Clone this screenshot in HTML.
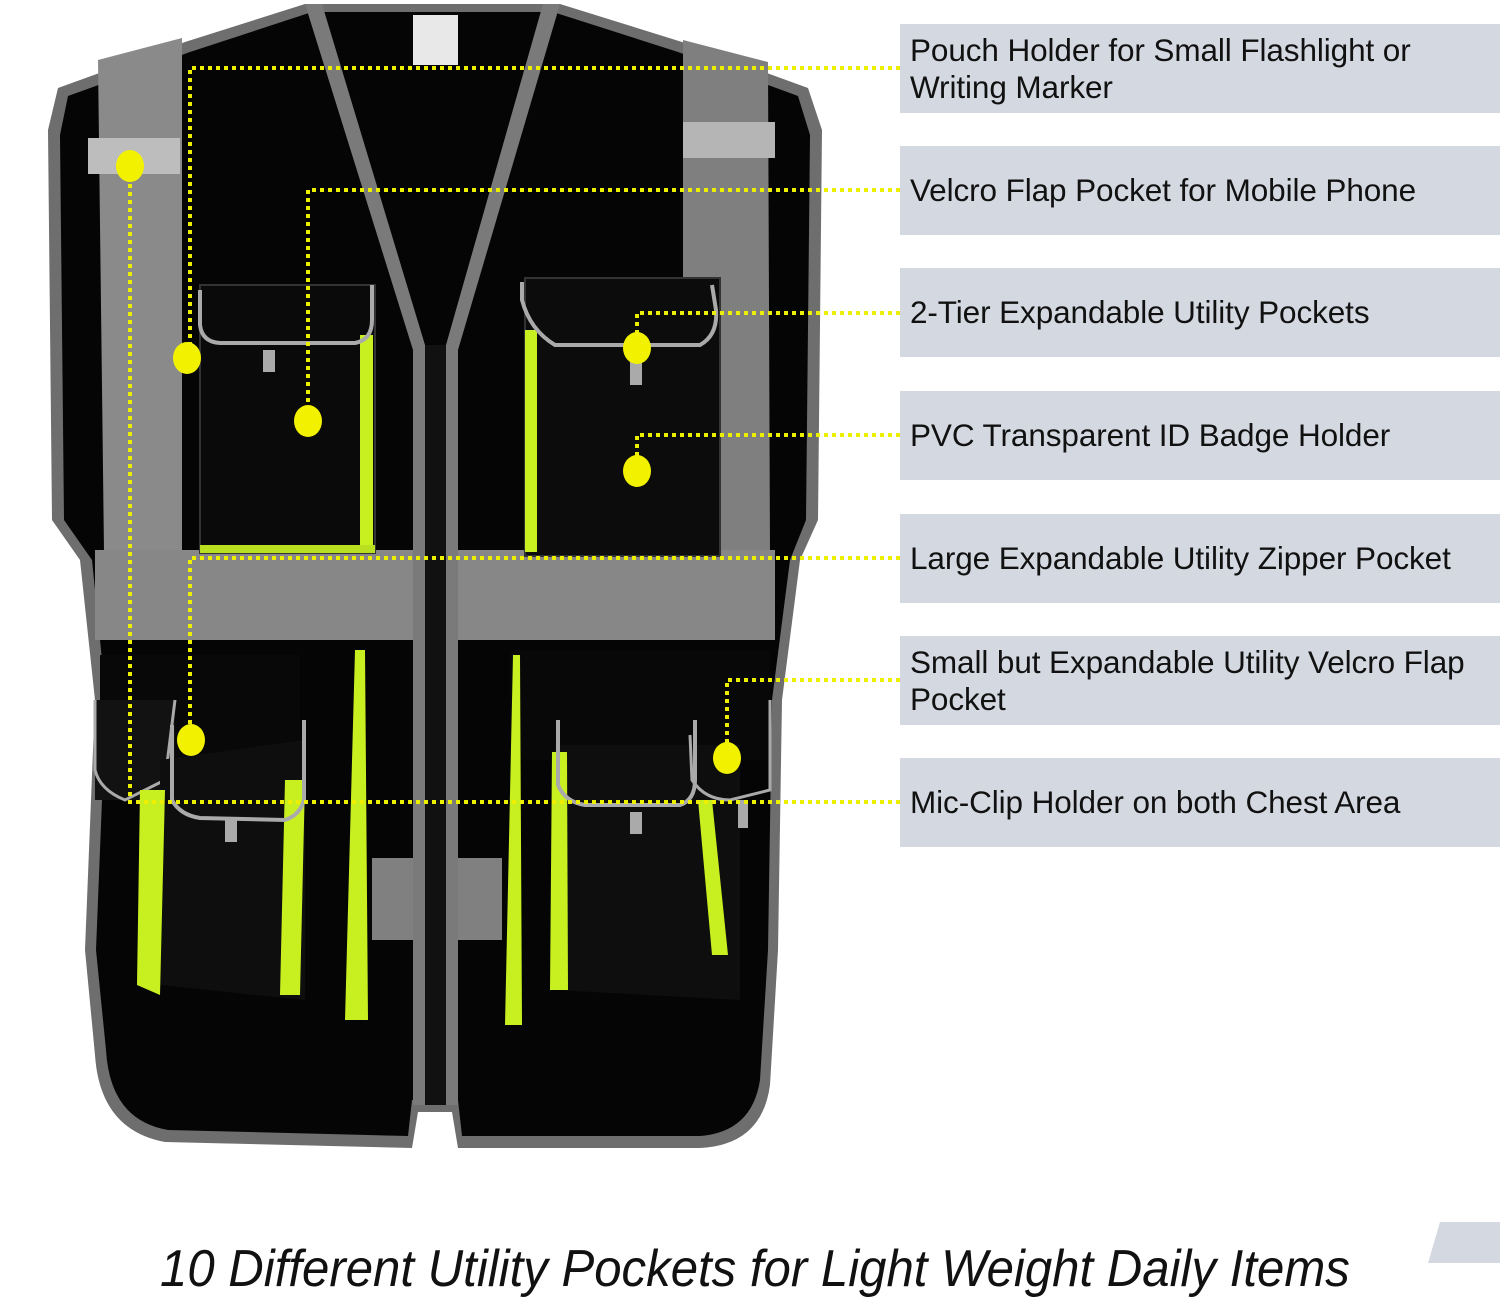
<!DOCTYPE html>
<html><head><meta charset="utf-8"><style>
html,body{margin:0;padding:0;background:#fff;}
body{width:1500px;height:1263px;overflow:hidden;position:relative;font-family:"Liberation Sans",Arial,sans-serif;}
.box{position:absolute;left:900px;width:600px;height:89px;background:#d4d9e1;box-sizing:border-box;padding-left:10px;font-size:31.5px;color:#111;line-height:37px;display:flex;align-items:center;letter-spacing:-0.1px;}
.cap{position:absolute;left:160px;top:1243px;font-family:"Liberation Sans",sans-serif;font-style:italic;font-size:52px;line-height:52px;color:#111;white-space:nowrap;transform:scaleX(0.945);transform-origin:left top;}
</style></head><body>
<svg width="1500" height="1263" style="position:absolute;left:0;top:0">
<path d="M58,88 L185,42 L305,4 L560,4 L682,42 L808,88 L822,130 L818,520 L800,560 L782,700 L778,950 L770,1085 Q762,1145 700,1148 L458,1148 L452,1112 L418,1112 L412,1148 L165,1142 Q100,1130 95,1055 L85,950 L95,700 L80,560 L52,520 L48,130 Z" fill="#6e6e6e"/>
<path d="M68,96 L190,52 L312,12 L553,12 L678,52 L798,96 L810,135 L806,520 L790,560 L772,700 L768,950 L760,1080 Q752,1132 700,1136 L462,1136 L458,1100 L412,1100 L408,1136 L168,1130 Q110,1120 106,1050 L96,950 L106,700 L92,560 L64,520 L60,135 Z" fill="#050505"/>
<polygon points="98,60 182,38 182,552 104,552" fill="#8a8a8a"/>
<polygon points="683,40 768,62 770,552 683,552" fill="#7f7f7f"/>
<rect x="88" y="138" width="92" height="36" fill="#bdbdbd"/>
<rect x="683" y="122" width="92" height="36" fill="#b5b5b5"/>
<rect x="95" y="550" width="680" height="90" fill="#878787"/>
<rect x="372" y="858" width="130" height="82" fill="#808080"/>
<polygon points="305,4 322,4 425,345 425,1105 413,1105 413,350" fill="#7a7a7a"/>
<polygon points="543,4 560,4 458,350 458,1105 446,1105 446,345" fill="#7a7a7a"/>
<rect x="425" y="345" width="21" height="760" fill="#111"/>
<rect x="413" y="15" width="45" height="50" fill="#e8e8e8"/>
<rect x="200" y="285" width="175" height="268" fill="#0a0a0a" stroke="#333" stroke-width="2"/>
<rect x="360" y="335" width="13" height="215" fill="#c8f020"/>
<rect x="200" y="545" width="175" height="8" fill="#b8e020"/>
<path d="M200,290 L200,325 Q202,342 220,343 L355,343 Q372,340 372,320 L372,285" fill="none" stroke="#aaa" stroke-width="4"/>
<rect x="263" y="350" width="12" height="22" fill="#aaa"/>
<rect x="525" y="278" width="195" height="278" fill="#0c0c0c" stroke="#333" stroke-width="2"/>
<rect x="525" y="330" width="12" height="222" fill="#c8f020"/>
<path d="M522,282 L522,300 Q530,330 555,345 L700,345 Q718,335 716,310 L712,285" fill="none" stroke="#aaa" stroke-width="4"/>
<rect x="630" y="360" width="12" height="25" fill="#aaa"/>
<polygon points="100,655 300,655 300,760 100,760" fill="#080808"/>
<polygon points="355,650 365,650 368,1020 345,1020" fill="#c8f020"/>
<polygon points="95,700 175,700 175,800 95,800" fill="#121212"/>
<path d="M95,700 L95,770 Q100,790 125,800 L165,780 L175,700" fill="none" stroke="#aaa" stroke-width="3"/>
<polygon points="160,760 305,740 305,1000 160,985" fill="#0e0e0e"/>
<polygon points="140,790 165,790 160,995 137,985" fill="#c8f020"/>
<polygon points="285,780 305,780 300,995 280,995" fill="#c8f020"/>
<path d="M172,725 L172,800 Q180,815 200,818 L285,820 Q300,815 304,800 L304,720" fill="none" stroke="#aaa" stroke-width="4"/>
<rect x="225" y="820" width="12" height="22" fill="#aaa"/>
<polygon points="510,650 770,650 770,760 510,760" fill="#080808"/>
<polygon points="513,655 520,655 522,1025 505,1025" fill="#c8f020"/>
<polygon points="555,745 740,745 740,1000 555,990" fill="#0e0e0e"/>
<polygon points="552,752 567,752 568,990 550,990" fill="#c8f020"/>
<polygon points="698,800 712,800 728,955 712,955" fill="#c8f020"/>
<path d="M558,720 L558,785 Q565,802 585,805 L680,805 Q695,800 695,780 L695,720" fill="none" stroke="#aaa" stroke-width="4"/>
<path d="M690,735 L692,780 Q705,800 730,800 L770,790 L770,700" fill="none" stroke="#aaa" stroke-width="3"/>
<rect x="630" y="812" width="12" height="22" fill="#aaa"/>
<rect x="738" y="800" width="10" height="28" fill="#aaa"/>
<g stroke="#eeee00" stroke-width="4" stroke-dasharray="4 4" fill="none">
<polyline points="900,68 190,68 190,355"/>
<polyline points="900,190 308,190 308,420"/>
<polyline points="900,313 637,313 637,348"/>
<polyline points="900,435 637,435 637,470"/>
<polyline points="900,558 190,558 190,740"/>
<polyline points="900,680 727,680 727,758"/>
<polyline points="900,802 130,802 130,165"/>
</g>
<g fill="#f2f200">
<ellipse cx="130" cy="166" rx="14" ry="16"/>
<ellipse cx="187" cy="358" rx="14" ry="16"/>
<ellipse cx="308" cy="421" rx="14" ry="16"/>
<ellipse cx="637" cy="348" rx="14" ry="16"/>
<ellipse cx="637" cy="471" rx="14" ry="16"/>
<ellipse cx="191" cy="740" rx="14" ry="16"/>
<ellipse cx="727" cy="758" rx="14" ry="16"/>
</g>
<polygon points="1440,1222 1500,1222 1500,1263 1428,1263" fill="#d4d9e1"/>
</svg>
<div class="box" style="top:24px">Pouch Holder for Small Flashlight or<br>Writing Marker</div>
<div class="box" style="top:146px">Velcro Flap Pocket for Mobile Phone</div>
<div class="box" style="top:268px">2-Tier Expandable Utility Pockets</div>
<div class="box" style="top:391px">PVC Transparent ID Badge Holder</div>
<div class="box" style="top:514px">Large Expandable Utility Zipper Pocket</div>
<div class="box" style="top:636px">Small but Expandable Utility Velcro Flap<br>Pocket</div>
<div class="box" style="top:758px">Mic-Clip Holder on both Chest Area</div>
<div class="cap">10 Different Utility Pockets for Light Weight Daily Items</div>
</body></html>
